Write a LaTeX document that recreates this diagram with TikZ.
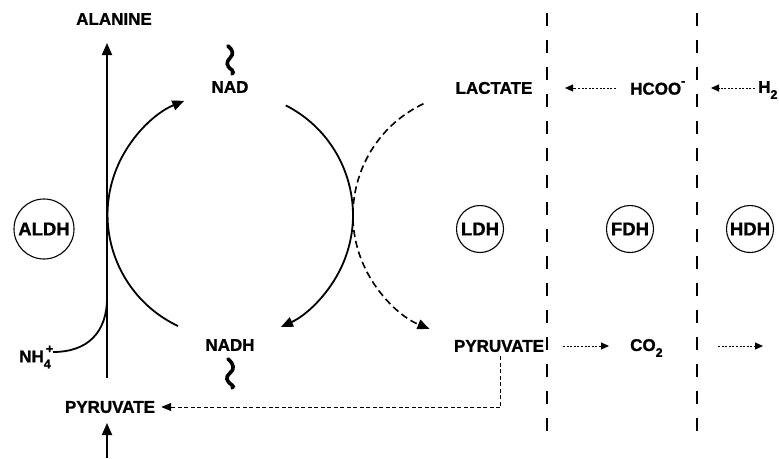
\documentclass[tikz,border=0pt]{standalone}
\usepackage{fontspec}
\setmainfont{Liberation Sans}[BoldFeatures={FakeBold=1.2}]
\usetikzlibrary{arrows.meta}
\newcommand{\lsub}[1]{\raisebox{-0.35em}{\fontsize{12.5}{13}\selectfont\bfseries #1}}
\newcommand{\lsup}[1]{\raisebox{0.55em}{\fontsize{12.5}{13}\selectfont\bfseries #1}}
\begin{document}
\begin{tikzpicture}[x=1pt,y=-1pt,
  lab/.style={font=\fontsize{17}{18}\selectfont\bfseries, inner sep=0pt},
  enz/.style={draw, circle, line width=1.1pt, inner sep=0pt, font=\fontsize{18.5}{19}\selectfont\bfseries},
  main/.style={line width=1.8pt},
  bigtip/.style={-{Triangle[length=12pt,width=10pt]}},
  smalltip/.style={-{Triangle[length=8pt,width=7pt]}},
  dots/.style={line width=1pt, dash pattern=on 2pt off 1.6pt},
  dashesfine/.style={line width=1pt, dash pattern=on 4pt off 2.5pt},
  wall/.style={line width=1.4pt, dash pattern=on 13pt off 14pt},
  wavy/.style={line width=3.6pt, line cap=round}
]
\useasboundingbox (0,0) rectangle (779,458);

% labels
\node[lab] (ala) at (114,19) {ALANINE};
\node[lab] (nad) at (230,87) {NAD};
\node[lab] (nadh) at (230,345) {NADH};
\node[lab] (lac) at (494,88) {LACTATE};
\node[lab, anchor=west] (hcoo) at (630,88) {HCOO\lsup{-}};
\node[lab, anchor=west] (h2) at (758,90) {H\lsub{2}};
\node[lab] (pyrr) at (499,346) {PYRUVATE};
\node[lab, anchor=west] (co2) at (630,348) {CO\lsub{2}};
\node[lab] (pyrl) at (110,407) {PYRUVATE};
\node[lab, anchor=east] (nh4) at (51,357) {NH\rlap{\lsup{\,+}}\lsub{4}};

% enzymes
\node[enz, minimum size=60pt] (aldh) at (44,229) {ALDH};
\node[enz, minimum size=47pt] (ldh) at (480,229) {LDH};
\node[enz, minimum size=47pt] (fdh) at (630,229) {FDH};
\node[enz, minimum size=47pt] (hdh) at (750,229) {HDH};

% membranes
\draw[wall] (547,13) -- (547,440);
\draw[wall] (697,13) -- (697,440);

% alanine axis
\coordinate (axbot) at (107,378);
\coordinate (axtop) at (107,43);
\draw[main, bigtip] (axbot) -- (axtop);
\coordinate (pinb) at (107,458);
\coordinate (pint) at (107,423);
\draw[main, bigtip] (pinb) -- (pint);

% NH4 curve
\draw[main] (53,352) .. controls (88,352) and (107,332) .. (107,298);

% ALDH cycle arc (left)
\draw[main, bigtip] (178,326) arc[start angle=115.3, end angle=247.9, radius=123];
% NAD/NADH arc (right, solid)
\draw[main, bigtip] (285.8,105.4) arc[start angle=-63, end angle=65.5, radius=123];
% LDH arc (dashed)
\draw[main, line width=1.6pt, dash pattern=on 7pt off 4pt, bigtip] (423.4,103.8) arc[start angle=244.7, end angle=112.2, radius=123];

% squiggles
\draw[wavy] (228,46) .. controls (233,50) and (234,54) .. (230,58) .. controls (226,62) and (226,66) .. (232,70) .. controls (234,72) and (233,73) .. (232,74);
\draw[wavy] (228,359) .. controls (234,364) and (235,369) .. (230,373) .. controls (225,377) and (226,381) .. (232,385) .. controls (234,386) and (233,387) .. (232,388);

% dotted transfers
\coordinate (a1s) at (616,88); \coordinate (a1e) at (565,88);
\draw[dots, smalltip] (a1s) -- (a1e);
\coordinate (a2s) at (755,88); \coordinate (a2e) at (711,88);
\draw[dots, smalltip] (a2s) -- (a2e);
\coordinate (a3s) at (563,346); \coordinate (a3e) at (609,346);
\draw[dots, smalltip] (a3s) -- (a3e);
\coordinate (a4s) at (718,346); \coordinate (a4e) at (763,346);
\draw[dots, smalltip] (a4s) -- (a4e);

% pyruvate return
\coordinate (turn) at (500,407);
\coordinate (pyrin) at ([xshift=6pt]pyrl.east);
\draw[dashesfine] (500,356) -- (turn);
\draw[dashesfine, -{Triangle[length=10pt,width=8pt]}] (turn) -- (pyrin);
\end{tikzpicture}
\end{document}
